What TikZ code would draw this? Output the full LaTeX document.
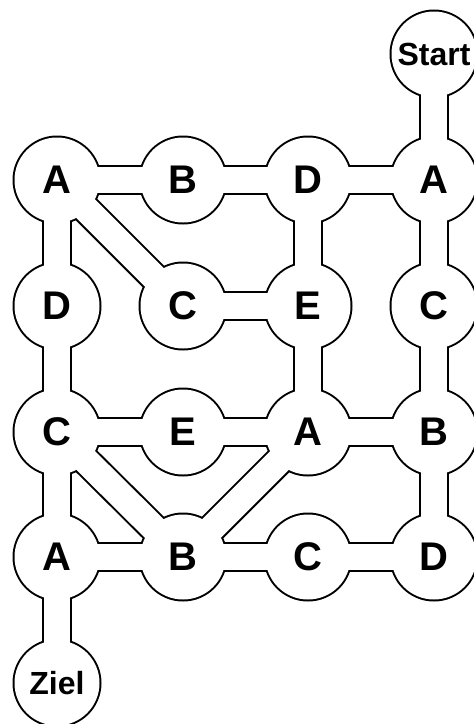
\documentclass[tikz,border=0pt]{standalone}
\usepackage{fontspec}
\setmainfont{Liberation Sans}
\pgfdeclarelayer{outline}
\pgfdeclarelayer{inside}
\pgfsetlayers{outline,inside,main}

\begin{document}
\begin{tikzpicture}[x=1pt, y=-1pt,
    room/.style={font=\fontsize{40}{40}\selectfont\bfseries, inner sep=0pt},
    endroom/.style={font=\fontsize{32}{32}\selectfont\bfseries, inner sep=0pt}]
    \useasboundingbox (0,0) rectangle (474,724);

    % Start and goal
    \node[endroom] (start) at (434,54) {Start};
    \node[endroom] (ziel) at (57,683) {Ziel};

    % Row 1
    \node[room] (a11) at (57,180) {A};
    \node[room] (a12) at (183,180) {B};
    \node[room] (a13) at (308,180) {D};
    \node[room] (a14) at (434,180) {A};
    % Row 2
    \node[room] (a21) at (57,306) {D};
    \node[room] (a22) at (183,306) {C};
    \node[room] (a23) at (308,306) {E};
    \node[room] (a24) at (434,306) {C};
    % Row 3
    \node[room] (a31) at (57,432) {C};
    \node[room] (a32) at (183,432) {E};
    \node[room] (a33) at (308,432) {A};
    \node[room] (a34) at (434,432) {B};
    % Row 4
    \node[room] (a41) at (57,557) {A};
    \node[room] (a42) at (183,557) {B};
    \node[room] (a43) at (308,557) {C};
    \node[room] (a44) at (434,557) {D};

    % Walls (black), then floor (white) on top
    \begin{pgfonlayer}{outline}
        \foreach \n in {start,ziel,a11,a12,a13,a14,a21,a22,a23,a24,a31,a32,a33,a34,a41,a42,a43,a44}
            \fill (\n.center) circle (44.5);
        \foreach \u/\v in {start/a14, a11/a12, a12/a13, a13/a14, a11/a21, a11/a22, a13/a23, a14/a24,
                           a22/a23, a21/a31, a23/a33, a24/a34, a31/a32, a32/a33, a33/a34,
                           a31/a41, a31/a42, a33/a42, a34/a44, a41/a42, a42/a43, a43/a44, a41/ziel}
            \draw[line width=30.4pt] (\u.center) -- (\v.center);
    \end{pgfonlayer}
    \begin{pgfonlayer}{inside}
        \foreach \n in {start,ziel,a11,a12,a13,a14,a21,a22,a23,a24,a31,a32,a33,a34,a41,a42,a43,a44}
            \fill[white] (\n.center) circle (42.5);
        \foreach \u/\v in {start/a14, a11/a12, a12/a13, a13/a14, a11/a21, a11/a22, a13/a23, a14/a24,
                           a22/a23, a21/a31, a23/a33, a24/a34, a31/a32, a32/a33, a33/a34,
                           a31/a41, a31/a42, a33/a42, a34/a44, a41/a42, a42/a43, a43/a44, a41/ziel}
            \draw[white, line width=26.4pt] (\u.center) -- (\v.center);
    \end{pgfonlayer}
\end{tikzpicture}
\end{document}
